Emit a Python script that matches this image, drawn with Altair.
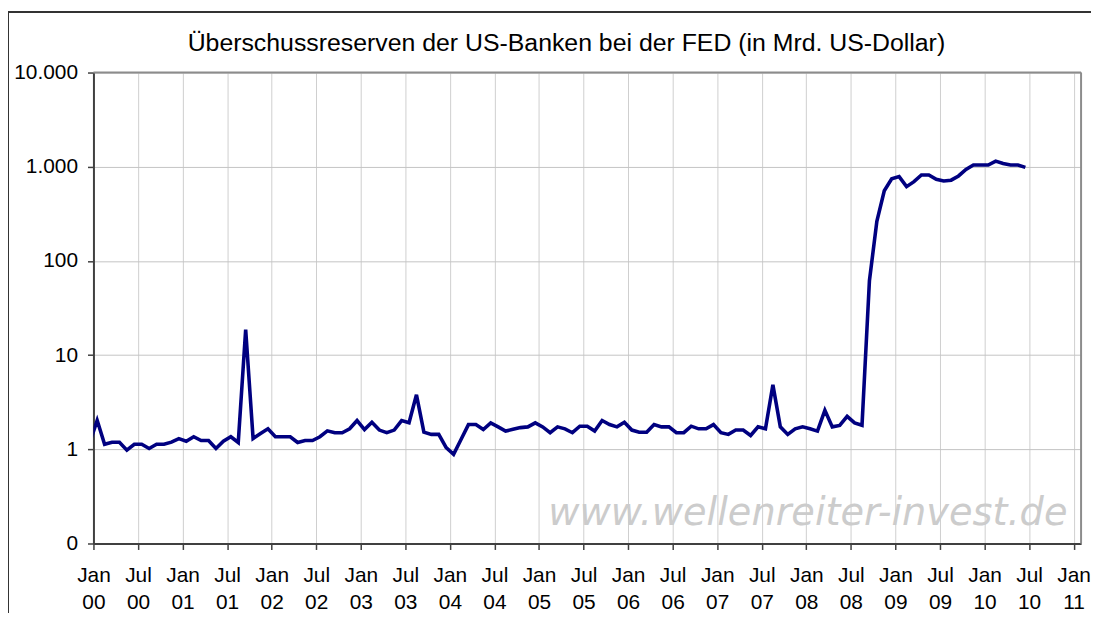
import altair as alt
import pandas as pd

TITLE = "Überschussreserven der US-Banken bei der FED (in Mrd. US-Dollar)"
WATERMARK = "www.wellenreiter-invest.de"

# monthly values, first value = Dec 1999 (only its segment edge is visible), then Jan 2000 ... Jun 2010
FIRST_YEAR = 1999
FIRST_MONTH = 12
RES_1999 = [1.18]
RES_2000 = [2.03, 1.13, 1.19, 1.19, 0.98, 1.13, 1.13, 1.02, 1.13, 1.13, 1.19, 1.30]
RES_2001 = [1.22, 1.36, 1.24, 1.24, 1.02, 1.22, 1.36, 1.18, 18.6, 1.30, 1.47, 1.65]
RES_2002 = [1.36, 1.36, 1.36, 1.18, 1.24, 1.24, 1.36, 1.57, 1.50, 1.50, 1.65, 2.02]
RES_2003 = [1.62, 1.94, 1.60, 1.50, 1.60, 2.02, 1.91, 3.79, 1.52, 1.44, 1.44, 1.04]
RES_2004 = [0.886, 1.27, 1.83, 1.83, 1.62, 1.91, 1.73, 1.56, 1.63, 1.70, 1.73, 1.91]
RES_2005 = [1.73, 1.50, 1.73, 1.65, 1.50, 1.76, 1.76, 1.56, 2.02, 1.83, 1.73, 1.94]
RES_2006 = [1.60, 1.52, 1.52, 1.83, 1.73, 1.73, 1.50, 1.50, 1.76, 1.65, 1.65, 1.83]
RES_2007 = [1.50, 1.44, 1.60, 1.60, 1.40, 1.73, 1.65, 4.83, 1.73, 1.44, 1.65, 1.73]
RES_2008 = [1.65, 1.56, 2.59, 1.73, 1.79, 2.24, 1.91, 1.80, 61.6, 264, 555, 743]
RES_2009 = [785, 615, 695, 818, 818, 735, 707, 720, 798, 937, 1042, 1042]
RES_2010 = [1042, 1148, 1084, 1042, 1042, 984]

X_LABEL_MONTHS = ["Jan", "Jul"] * 11 + ["Jan"]
X_LABEL_YEARS = ["00", "00", "01", "01", "02", "02", "03", "03", "04", "04", "05", "05",
                 "06", "06", "07", "07", "08", "08", "09", "09", "10", "10", "11"]
Y_TICKS = [0.1, 1, 10, 100, 1000, 10000]
Y_TICK_LABELS = ["0", "1", "10", "100", "1.000", "10.000"]

values = (RES_1999 + RES_2000 + RES_2001 + RES_2002 + RES_2003 + RES_2004 + RES_2005
          + RES_2006 + RES_2007 + RES_2008 + RES_2009 + RES_2010)
start_index = (FIRST_YEAR - 2000) * 12 + (FIRST_MONTH - 1)
df = pd.DataFrame({
    "pos": [start_index + i + 0.5 for i in range(len(values))],
    "value": values,
})

X_TICKS = [6 * i for i in range(len(X_LABEL_MONTHS))]
x_label_expr = "[" + ",".join(f"['{m}','{y}']" for m, y in zip(X_LABEL_MONTHS, X_LABEL_YEARS)) + "][round(datum.value/6)]"
y_label_expr = "[" + ",".join(f"'{t}'" for t in Y_TICK_LABELS) + "][round(log(datum.value)/LN10)+1]"

W, H = 994, 474
FONT = "Liberation Sans"

line = alt.Chart(df).mark_line(color="#000080", strokeWidth=3.6, clip=True).encode(
    x=alt.X("pos:Q",
            scale=alt.Scale(domain=[0, 133], nice=False, zero=False),
            axis=alt.Axis(values=X_TICKS, labelExpr=x_label_expr, title=None,
                          grid=True, gridColor="#cfcfcf", gridWidth=1,
                          domainColor="#404040", domainWidth=2,
                          tickColor="#404040", tickSize=6, tickWidth=1.5,
                          labelFont=FONT, labelFontSize=21, labelColor="black",
                          labelBaseline="alphabetic", labelPadding=32, labelLineHeight=27,
                          labelOverlap=False, labelFlush=False, labelBound=False)),
    y=alt.Y("value:Q",
            scale=alt.Scale(type="log", domain=[0.1, 10000], nice=False),
            axis=alt.Axis(values=Y_TICKS, labelExpr=y_label_expr, title=None,
                          grid=True, gridColor="#c4c4c4", gridWidth=1,
                          domainColor="#404040", domainWidth=2,
                          tickColor="#404040", tickSize=6, tickWidth=1.5,
                          labelFont=FONT, labelFontSize=21, labelColor="black",
                          labelPadding=10, labelOverlap=False, labelFlush=False, labelBound=False)),
)

one = alt.Data(values=[{"t": WATERMARK, "title": TITLE}])

watermark = alt.Chart(one).mark_text(
    font="DejaVu Sans", fontSize=38.5, fontStyle="italic", color="#cccccc",
    align="center", baseline="middle"
).encode(x=alt.value(719), y=alt.value(443), text="t:N")

title = alt.Chart(one).mark_text(
    font=FONT, fontSize=25, color="black", align="center", baseline="alphabetic"
).encode(x=alt.value(476), y=alt.value(-22), text="title:N")

border_top = alt.Chart(one).mark_rule(color="#8c8c8c", strokeWidth=2).encode(
    x=alt.value(0), x2=alt.value(W), y=alt.value(0))
border_right = alt.Chart(one).mark_rule(color="#8c8c8c", strokeWidth=2).encode(
    x=alt.value(W), y=alt.value(0), y2=alt.value(H))

frame_top = alt.Chart(one).mark_rule(color="#333333", strokeWidth=2).encode(
    x=alt.value(-86), x2=alt.value(W + 20), y=alt.value(-61))
frame_left = alt.Chart(one).mark_rule(color="#333333", strokeWidth=2).encode(
    x=alt.value(-86), y=alt.value(-61), y2=alt.value(H + 80))

chart = alt.layer(watermark, border_top, border_right, line, title, frame_top, frame_left).properties(
    width=W, height=H,
    autosize=alt.AutoSizeParams(type="none"),
    padding={"left": 86, "top": 63, "right": 10, "bottom": 68},
).configure_view(stroke=None).configure(background="white")

chart.save("out.html", embed_options={"renderer": "svg", "actions": False})
